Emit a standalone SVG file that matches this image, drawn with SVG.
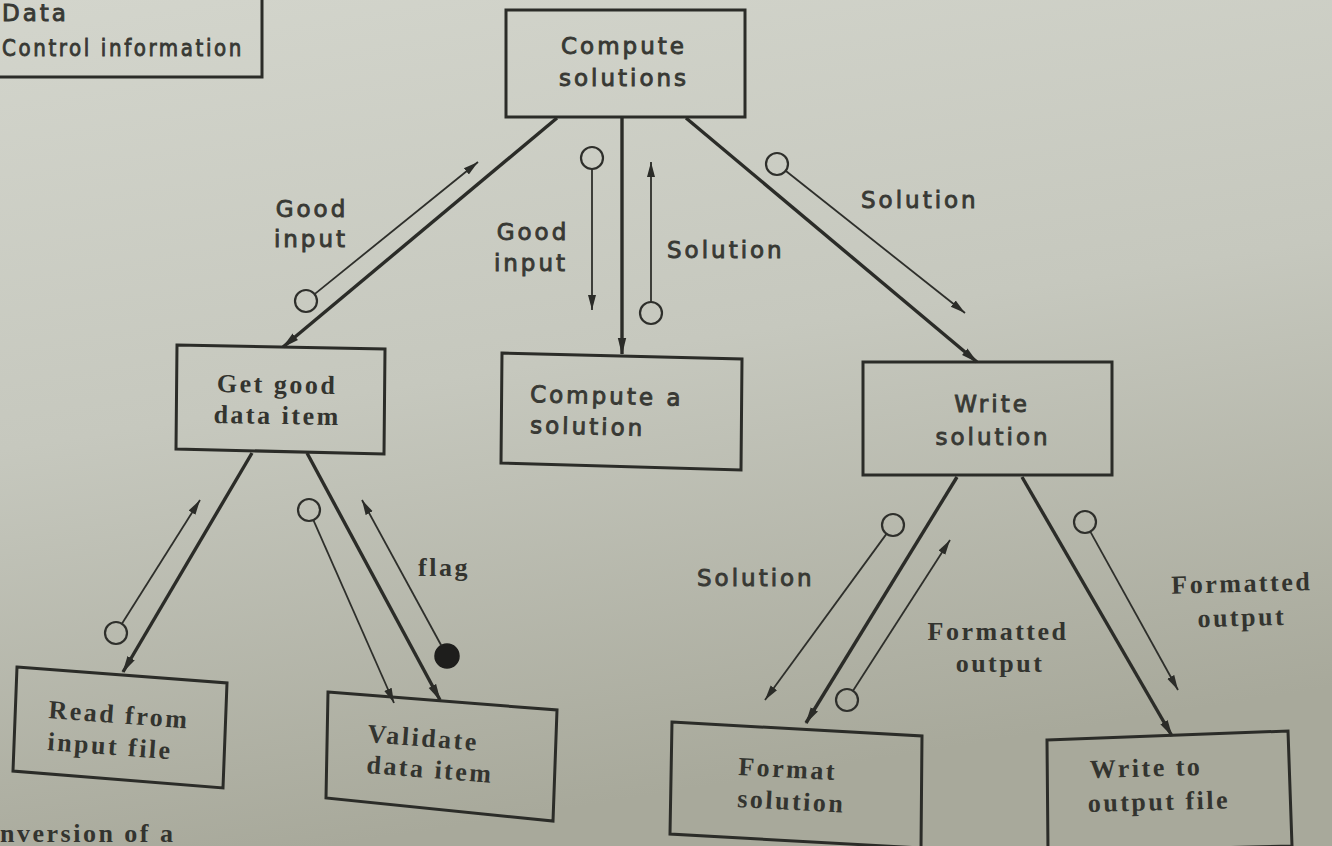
<svg xmlns="http://www.w3.org/2000/svg" width="1332" height="846" viewBox="0 0 1332 846">
  <defs>
    <linearGradient id="paper" x1="0" y1="0" x2="0.25" y2="1">
      <stop offset="0" stop-color="#d3d5cc"/>
      <stop offset="0.5" stop-color="#c6c8be"/>
      <stop offset="1" stop-color="#a8a99b"/>
    </linearGradient>
    <marker id="head" markerUnits="userSpaceOnUse" markerWidth="18" markerHeight="10" refX="16" refY="5" orient="auto">
      <path d="M0,0.8 L17,5 L0,9.2 z" fill="#2b2c28"/>
    </marker>
    <marker id="headSmall" markerUnits="userSpaceOnUse" markerWidth="16" markerHeight="10" refX="15" refY="5" orient="auto">
      <path d="M0,1 L15,5 L0,9 z" fill="#2b2c28"/>
    </marker>
    <style>
      .box { fill: none; stroke: #2b2c28; stroke-width: 3; stroke-linejoin: miter; }
      .call { fill: none; stroke: #2b2c28; stroke-width: 3.4; marker-end: url(#head); }
      .couple { fill: none; stroke: #2e2f2b; stroke-width: 1.8; marker-end: url(#headSmall); }
      .data { fill: none; stroke: #2e2f2b; stroke-width: 2.2; }
      .ctrl { fill: #1e1e1c; stroke: #1e1e1c; stroke-width: 1.5; }
      .sans { font-family: "DejaVu Sans", "Liberation Sans", sans-serif; font-size: 23px; letter-spacing: 3px; fill: #383934; stroke: #383934; stroke-width: 0.9; }
      .serif { font-family: "Liberation Serif", "DejaVu Serif", serif; font-size: 26px; font-weight: bold; letter-spacing: 2.5px; fill: #33342f; }
      .mid { text-anchor: middle; }
    </style>
  </defs>

  <rect width="1332" height="846" fill="url(#paper)"/>

  <!-- legend (its left part lies beyond the page edge) -->
  <g id="legend">
    <path class="box" d="M-5,77 L262,77 L262,-5"/>
    <text class="sans" x="2" y="21" font-size="19" letter-spacing="0.5">Data</text>
    <text class="sans" x="2" y="56" font-size="19" letter-spacing="0" textLength="242" lengthAdjust="spacingAndGlyphs">Control information</text>
  </g>

  <!-- calls between modules -->
  <g id="connectors">
    <line class="call" x1="557" y1="118" x2="283" y2="347"/>
    <line class="call" x1="622" y1="118" x2="622" y2="354"/>
    <line class="call" x1="686" y1="118" x2="977" y2="362"/>
    <line class="call" x1="252" y1="453" x2="123" y2="672"/>
    <line class="call" x1="307" y1="453" x2="440" y2="700"/>
    <line class="call" x1="957" y1="477" x2="806" y2="723"/>
    <line class="call" x1="1022" y1="477" x2="1172" y2="736"/>

    <!-- data couples (open circles) -->
    <circle class="data" cx="306" cy="301" r="11"/>
    <line class="couple" x1="314.6" y1="294.1" x2="478" y2="162"/>
    <circle class="data" cx="592" cy="158" r="11"/>
    <line class="couple" x1="592" y1="169" x2="592" y2="310"/>
    <circle class="data" cx="651" cy="313" r="11"/>
    <line class="couple" x1="651" y1="302" x2="651" y2="162"/>
    <circle class="data" cx="777" cy="164" r="11"/>
    <line class="couple" x1="785.6" y1="170.8" x2="965" y2="313"/>
    <circle class="data" cx="116" cy="633" r="11"/>
    <line class="couple" x1="121.9" y1="623.7" x2="200" y2="500"/>
    <circle class="data" cx="309" cy="510" r="11"/>
    <line class="couple" x1="313.4" y1="520.1" x2="394" y2="703"/>
    <circle class="data" cx="893" cy="525" r="11"/>
    <line class="couple" x1="886.5" y1="533.9" x2="765" y2="700"/>
    <circle class="data" cx="847" cy="700" r="11"/>
    <line class="couple" x1="853" y1="690.7" x2="950" y2="540"/>
    <circle class="data" cx="1085" cy="522" r="11"/>
    <line class="couple" x1="1090.3" y1="531.6" x2="1178" y2="690"/>

    <!-- control couple (filled circle) -->
    <circle class="ctrl" cx="447" cy="656" r="12"/>
    <line class="couple" x1="441.3" y1="645.5" x2="362" y2="500"/>
  </g>

  <!-- couple labels -->
  <g id="labels">
    <text class="sans mid" x="312" y="217">Good</text>
    <text class="sans mid" x="311" y="247">input</text>
    <text class="sans mid" x="533" y="240">Good</text>
    <text class="sans mid" x="531" y="271">input</text>
    <text class="sans" x="667" y="258">Solution</text>
    <text class="sans" x="861" y="208">Solution</text>
    <text class="serif" x="418" y="576" font-size="24" letter-spacing="1">flag</text>
    <text class="sans" x="697" y="586">Solution</text>
    <text class="serif mid" x="998" y="640" letter-spacing="3">Formatted</text>
    <text class="serif mid" x="1000" y="672" letter-spacing="3">output</text>
    <text class="serif mid" x="1242" y="592" letter-spacing="3" transform="rotate(-1.5 1242 592)">Formatted</text>
    <text class="serif mid" x="1242" y="626" letter-spacing="3" transform="rotate(-1.5 1242 626)">output</text>
  </g>

  <g id="compute-solutions">
    <rect class="box" x="506" y="10" width="239" height="107"/>
    <text class="sans mid" x="624" y="54">Compute</text>
    <text class="sans mid" x="624" y="86">solutions</text>
  </g>

  <g id="get-good-data-item">
    <polygon class="box" points="177,345 385,349 384,454 176,449"/>
    <text class="serif mid" x="277" y="393" transform="rotate(1 277 393)">Get good</text>
    <text class="serif mid" x="277" y="424" transform="rotate(1 277 424)">data item</text>
  </g>

  <g id="compute-a-solution">
    <polygon class="box" points="502,353 742,359 741,470 501,463"/>
    <text class="sans" x="530" y="402" transform="rotate(1.4 530 402)">Compute a</text>
    <text class="sans" x="530" y="433" transform="rotate(1.4 530 433)">solution</text>
  </g>

  <g id="write-solution">
    <rect class="box" x="863" y="362" width="249" height="113"/>
    <text class="sans mid" x="992" y="412">Write</text>
    <text class="sans mid" x="993" y="445">solution</text>
  </g>

  <g id="read-from-input-file">
    <polygon class="box" points="17,667 227,683 223,788 13,771"/>
    <text class="serif" x="48" y="718" transform="rotate(4.3 48 718)">Read from</text>
    <text class="serif" x="47" y="750" transform="rotate(4.3 47 750)">input file</text>
  </g>

  <g id="validate-data-item">
    <polygon class="box" points="328,692 557,710 553,821 326,798"/>
    <text class="serif" x="367" y="742" transform="rotate(4.5 367 742)">Validate</text>
    <text class="serif" x="366" y="773" transform="rotate(4.5 366 773)">data item</text>
  </g>

  <g id="format-solution">
    <polygon class="box" points="672,722 922,736 921,848 670,834"/>
    <text class="serif" x="738" y="775" transform="rotate(3 738 775)">Format</text>
    <text class="serif" x="737" y="807" transform="rotate(3 737 807)">solution</text>
  </g>

  <g id="write-to-output-file">
    <polygon class="box" points="1047,740 1288,731 1292,846 1048,852"/>
    <text class="serif" x="1090" y="778" transform="rotate(-1.5 1090 778)">Write to</text>
    <text class="serif" x="1088" y="812" transform="rotate(-1.5 1088 812)">output file</text>
  </g>

  <!-- figure caption at the foot of the page -->
  <text class="serif" x="0" y="842" font-size="24" letter-spacing="1">nversion of a</text>
</svg>
